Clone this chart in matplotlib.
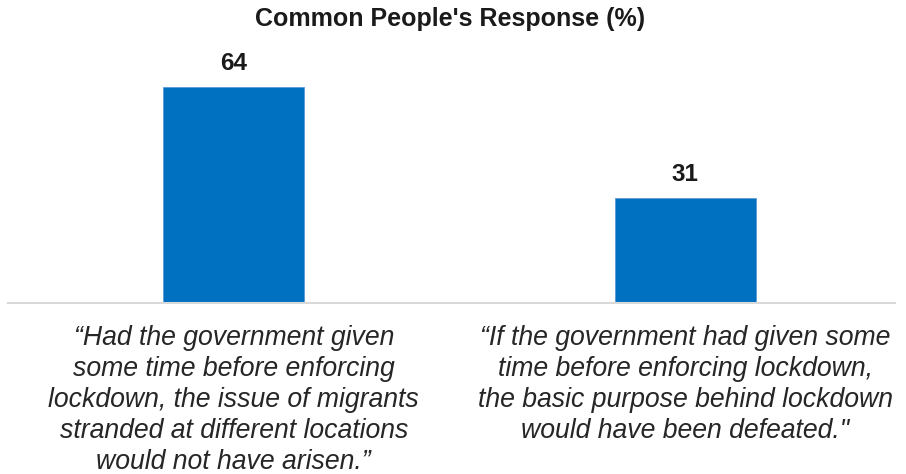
import matplotlib.pyplot as plt

plt.rcParams['font.family'] = ['Liberation Sans', 'DejaVu Sans']

# survey responses
categories = [
    "\u201cHad the government given\nsome time before enforcing\nlockdown, the issue of migrants\nstranded at different locations\nwould not have arisen.\u201d",
    "\u201cIf the government had given some\ntime before enforcing lockdown,\nthe basic purpose behind lockdown\nwould have been defeated.\"",
]
values = [64, 31]
title = "Common People's Response (%)"

fig = plt.figure(figsize=(9.06, 4.74), dpi=100)
ax = fig.add_axes([8 / 906, (474 - 303) / 474, 887 / 906, 263 / 474])

x = range(len(values))
bars = ax.bar(x, values, width=0.312, color='#0070C0', edgecolor='#5B9BD5', linewidth=0.6)

for xi, v in zip(x, values):
    ax.annotate(str(v), (xi, v), xytext=(0, 9), textcoords='offset points',
                ha='center', va='bottom', fontsize=17.5, fontweight='bold', color='#1a1a1a')

ax.set_xlim(-0.5, 1.465)
ax.set_ylim(0, 78)
ax.set_yticks([])
ax.set_xticks(list(x))
ax.set_xticklabels(categories, fontsize=19.2, style='italic', color='#262626', linespacing=1.25)
ax.tick_params(axis='x', length=0, pad=16)

for s in ['top', 'right', 'left']:
    ax.spines[s].set_visible(False)
ax.spines['bottom'].set_color('#D9D9D9')
ax.spines['bottom'].set_linewidth(1.5)

fig.text(450 / 906, 1 - 19 / 474, title, ha='center', va='center',
         fontsize=18, fontweight='bold', color='#1a1a1a')

plt.savefig('out.png', dpi=100)
